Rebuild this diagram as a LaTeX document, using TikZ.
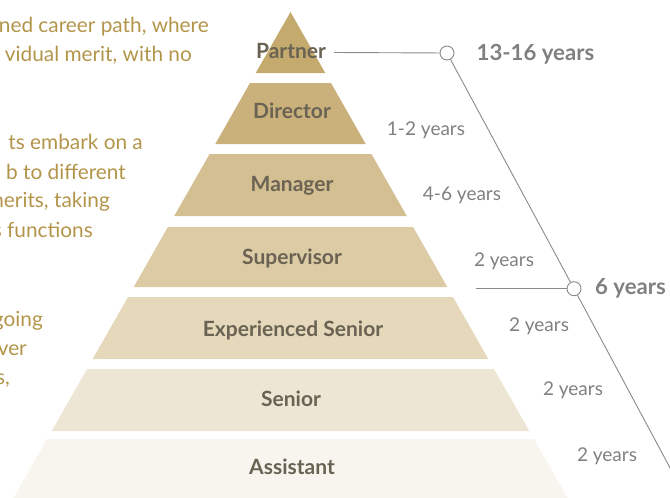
\documentclass[tikz,border=0pt]{standalone}
\usepackage{fontspec}
\setmainfont{Lato}
\definecolor{tA}{HTML}{C5AA6E}
\definecolor{tB}{HTML}{CAB17C}
\definecolor{tC}{HTML}{D4BF93}
\definecolor{tD}{HTML}{DCCBA5}
\definecolor{tE}{HTML}{E5D8BB}
\definecolor{tF}{HTML}{EEE6D4}
\definecolor{tG}{HTML}{F8F5EE}
\definecolor{labelc}{HTML}{6A6353}
\definecolor{yearc}{HTML}{808080}
\definecolor{goldc}{HTML}{B3954A}
\definecolor{linec}{HTML}{8A8A8A}
\begin{document}
\begin{tikzpicture}[x=1pt,y=-1pt,
  tierlabel/.style={font=\bfseries\fontsize{21}{21}\selectfont, text=labelc, inner sep=0pt, anchor=base},
  yrs/.style={font=\fontsize{19}{19}\selectfont, text=yearc, inner sep=0pt, anchor=base},
  yrsbold/.style={font=\bfseries\fontsize{22.2}{22.2}\selectfont, text=yearc, inner sep=0pt, anchor=base},
  lefttext/.style={font=\fontsize{20.8}{20.8}\selectfont, text=goldc, inner sep=0pt, anchor=base east},
  conn/.style={draw=linec, line width=0.9pt},
  dot/.style={circle, draw=linec, fill=white, minimum size=14pt, inner sep=0pt, line width=0.9pt}]
\useasboundingbox (0,0) rectangle (670,498);
\clip (0,0) rectangle (670,498);
% pyramid tiers
\fill[tA] (290.5,12) -- (325.3,73) -- (255.7,73) -- cycle;
\fill[tB] (250,83) -- (331,83) -- (365.7,144) -- (215.3,144) -- cycle;
\fill[tC] (209.6,154) -- (371.4,154) -- (406.8,216) -- (174.2,216) -- cycle;
\fill[tD] (167.9,227) -- (413.1,227) -- (447.3,287) -- (133.7,287) -- cycle;
\fill[tE] (128,297) -- (453,297) -- (488.3,359) -- (92.7,359) -- cycle;
\fill[tF] (87,369) -- (494,369) -- (529.3,431) -- (51.7,431) -- cycle;
\fill[tG] (47.1,439) -- (533.9,439) -- (574.4,510) -- (6.6,510) -- cycle;
% tier labels
\node[tierlabel] (partner) at (291,58.5) {Partner};
\node[tierlabel] (director) at (292,118.5) {Director};
\node[tierlabel] (manager) at (292,191) {Manager};
\node[tierlabel] (supervisor) at (292,264) {Supervisor};
\node[tierlabel] (expsenior) at (293,336.5) {Experienced Senior};
\node[tierlabel] (senior) at (291,406) {Senior};
\node[tierlabel] (assistant) at (292,474.5) {Assistant};
% connectors
\coordinate (p1) at (334,52.5);
\coordinate (s1) at (476,288.7);
\coordinate (lineend) at (698,520);
\node[dot] (c1) at (447,53) {};
\node[dot] (c2) at (574,288.7) {};
\draw[conn] (p1) -- (c1);
\draw[conn] (s1) -- (c2);
\draw[conn] (c1) -- (c2);
\draw[conn] (c2) -- (lineend);
% year labels
\node[yrs] (y1) at (426,135) {1-2 years};
\node[yrs] (y2) at (462,200) {4-6 years};
\node[yrs] (y3) at (504,266) {2 years};
\node[yrs] (y4) at (539,331) {2 years};
\node[yrs] (y5) at (573,395) {2 years};
\node[yrs] (y6) at (607,461) {2 years};
\node[yrsbold] (tot1) at (535.5,60) {13-16 years};
\node[yrsbold] (tot2) at (630.5,294) {6 years};
% left text
\node[lefttext] (l1) at (209,32) {ned career path, where};
\node[lefttext] (l2) at (192,61) {vidual merit, with no};
\node[lefttext] (l3) at (143,149) {ts embark on a};
\node[lefttext] (l4) at (126,179) {b to different};
\node[lefttext] (l5) at (110,207) {nerits, taking};
\node[lefttext] (l6) at (93,237) {s functions};
\node[lefttext] (l7) at (43,326) {going};
\node[lefttext] (l8) at (27,355) {ver};
\node[lefttext] (l9) at (10,384) {s,};
\end{tikzpicture}
\end{document}
